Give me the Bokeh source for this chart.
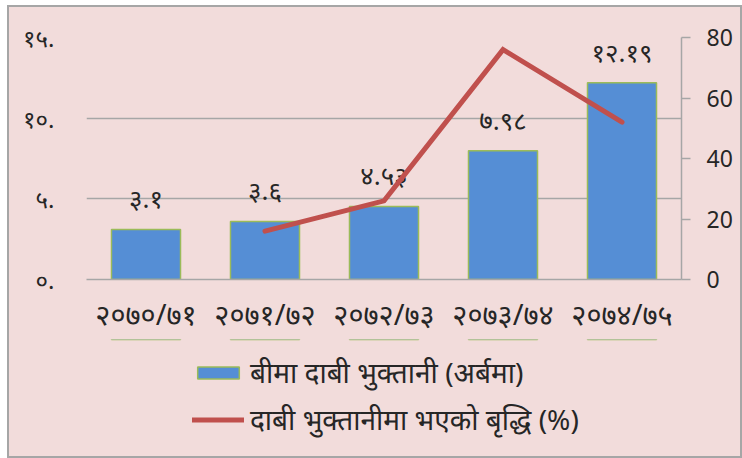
from bokeh.plotting import figure
from bokeh.layouts import column
from bokeh.models import (ColumnDataSource, Range1d, LinearAxis, FixedTicker,
                          Legend, LegendItem)
from bokeh.core.properties import value
from bokeh.embed import file_html
from bokeh.resources import INLINE

# ---- data ----
years = ["२०७०/७१", "२०७१/७२", "२०७२/७३", "२०७३/७४", "२०७४/७५"]
payout = [3.10, 3.60, 4.53, 7.98, 12.19]
payout_labels = ["३.१", "३.६", "४.५३", "७.९८", "१२.१९"]
growth_years = ["२०७१/७२", "२०७२/७३", "२०७३/७४", "२०७४/७५"]
growth = [16, 26, 76, 52]
left_ticks = [0, 5, 10, 15]
left_tick_labels = ["०.", "५.", "१०.", "१५."]
right_ticks = [0, 20, 40, 60, 80]
bar_name = "बीमा दाबी भुक्तानी (अर्बमा)"
line_name = "दाबी भुक्तानीमा भएको बृद्धि (%)"

BG = "#f2dcdb"
GRID = "#a6a6a6"
TXT = "#262626"
FONT = "Noto Sans"
BAR_FILL = "#558ed5"
BAR_LINE = "#9bbb59"
LINE_COL = "#c0504d"

p = figure(x_range=years, y_range=Range1d(0, 15), width=731, height=332,
           output_backend="svg", toolbar_location=None,
           min_border_left=77, min_border_right=59, min_border_top=30,
           min_border_bottom=60)
p.background_fill_color = BG
p.border_fill_color = BG
p.outline_line_color = None

p.extra_y_ranges = {"pct": Range1d(0, 80)}

src = ColumnDataSource(dict(x=years, y=payout, lab=payout_labels))
p.vbar(x="x", top="y", width=0.58, source=src, fill_color=BAR_FILL,
       line_color=BAR_LINE, line_width=1.5)
p.text(x="x", y="y", text="lab", source=src, text_align="center",
       text_baseline="bottom", y_offset=-13, text_font=value(FONT),
       text_font_size="26px", text_color=TXT)

lsrc = ColumnDataSource(dict(x=growth_years, y=growth))
p.line(x="x", y="y", source=lsrc, y_range_name="pct", line_color=LINE_COL,
       line_width=5, line_cap="round", line_join="miter")

# left axis
ya = p.yaxis[0]
ya.ticker = FixedTicker(ticks=left_ticks)
ya.major_label_overrides = {t: l for t, l in zip(left_ticks, left_tick_labels)}
ya.axis_line_color = None
ya.major_tick_line_color = None
ya.minor_tick_line_color = None
ya.major_label_text_font = FONT
ya.major_label_text_font_size = "24px"
ya.major_label_text_color = TXT
ya.major_label_standoff = 26

# right axis
ra = LinearAxis(y_range_name="pct", ticker=FixedTicker(ticks=right_ticks))
ra.axis_line_color = GRID
ra.axis_line_width = 1.5
ra.major_tick_line_color = GRID
ra.major_tick_line_width = 1.5
ra.major_tick_out = 9
ra.major_tick_in = 0
ra.minor_tick_line_color = None
ra.major_label_text_font = FONT
ra.major_label_text_font_size = "23px"
ra.major_label_text_color = TXT
ra.major_label_standoff = 16
p.add_layout(ra, "right")

# x axis
xa = p.xaxis[0]
xa.axis_line_color = GRID
xa.axis_line_width = 1.5
xa.major_tick_line_color = None
xa.minor_tick_line_color = None
xa.major_label_text_font = FONT
xa.major_label_text_font_size = "29px"
xa.major_label_text_color = TXT
xa.major_label_standoff = 8

p.xgrid.grid_line_color = None
p.ygrid.ticker = FixedTicker(ticks=left_ticks)
p.ygrid.grid_line_color = GRID
p.ygrid.grid_line_width = 1.5

# ---- legend strip (separate figure so the legend is not clipped) ----
# the same series are drawn here outside the visible y range, only to feed the legend
lg = figure(width=731, height=117, x_range=years, y_range=Range1d(-2, -1),
            output_backend="svg", toolbar_location=None,
            min_border_left=0, min_border_right=0, min_border_top=0,
            min_border_bottom=0)
lg.background_fill_color = BG
lg.border_fill_color = BG
lg.outline_line_color = None
lg.axis.visible = False
lg.grid.grid_line_color = None

bar_proxy = lg.vbar(x="x", top="y", width=0.58, source=src,
                    fill_color=BAR_FILL, line_color=BAR_LINE, line_width=1.5)
line_proxy = lg.line(x="x", y="y", source=lsrc, line_color=LINE_COL,
                     line_width=5, line_cap="round")

common = dict(orientation="vertical", background_fill_alpha=0,
              border_line_color=None, label_text_font=FONT,
              label_text_font_size="28px", label_text_color=TXT,
              glyph_width=52, glyph_height=15, label_height=36,
              label_standoff=6, margin=0, padding=0)
leg1 = Legend(items=[LegendItem(label=bar_name, renderers=[bar_proxy])],
              location=(106, 65), **common)
leg2 = Legend(items=[LegendItem(label=line_name, renderers=[line_proxy])],
              location=(106, 18), **common)
lg.add_layout(leg1)
lg.add_layout(leg2)

layout = column(p, lg, spacing=0,
                styles={"border": "2px solid #a6a6a6", "margin-left": "7px",
                        "margin-top": "5px", "background-color": BG})

open("out.html", "w").write(file_html(layout, INLINE))
